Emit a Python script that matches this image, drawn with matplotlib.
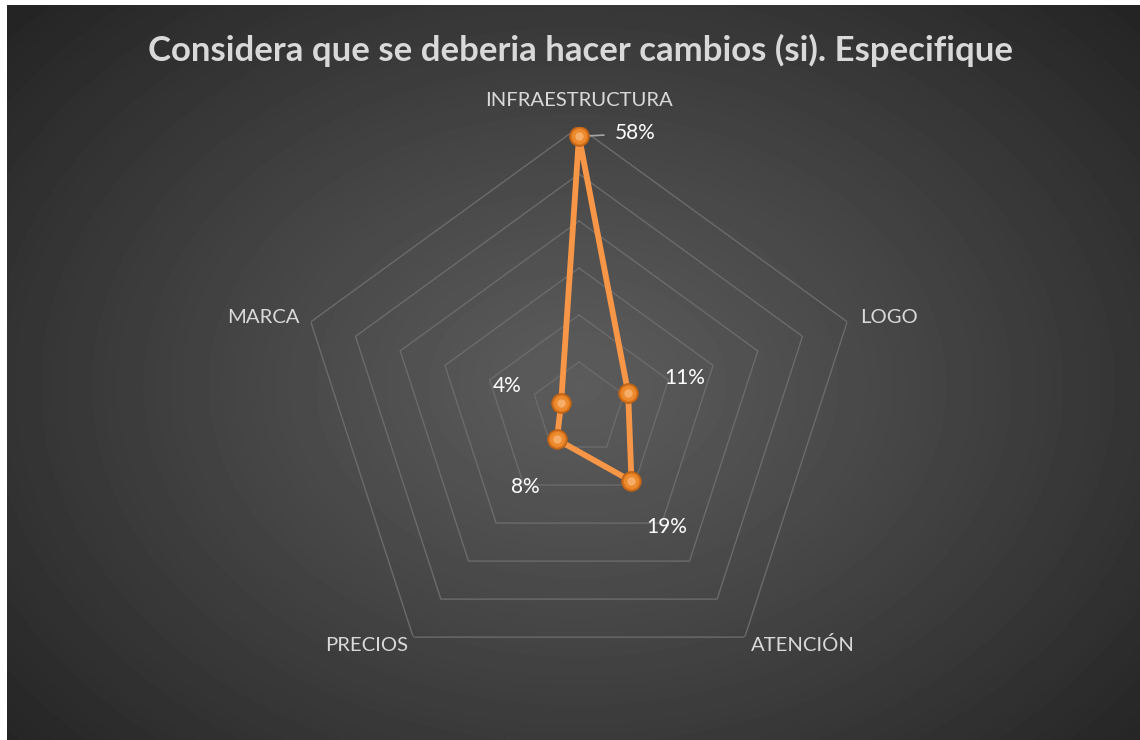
import numpy as np
import matplotlib.pyplot as plt

categories = ["INFRAESTRUCTURA", "LOGO", "ATENCIÓN", "PRECIOS", "MARCA"]
values = [0.58, 0.11, 0.19, 0.08, 0.04]
value_labels = ["58%", "11%", "19%", "8%", "4%"]
ring_levels = [0.1, 0.2, 0.3, 0.4, 0.5, 0.6]

title = "Considera que se deberia hacer cambios (si). Especifique"

plt.rcParams['font.family'] = ['Lato', 'DejaVu Sans']

W, H = 1140, 740
fig = plt.figure(figsize=(W / 100, H / 100), dpi=100, facecolor='white')

# dark radial gradient panel
bg = fig.add_axes([7 / W, 0, 1 - 7 / W, 735 / H])
yy, xx = np.mgrid[0:735, 0:1133]
d = np.sqrt(((xx - 570) / 760.0) ** 2 + ((yy - 380) / 560.0) ** 2)
d = np.clip(d, 0, 1)
shade = 92 - (92 - 36) * d ** 1.1
bg.imshow(shade, cmap='gray', vmin=0, vmax=255, aspect='auto', interpolation='bilinear')
bg.axis('off')

# radar axes
cx, cy, R = 579, 409, 282
ax = fig.add_axes([(cx - R) / W, (H - cy - R) / H, 2 * R / W, 2 * R / H], projection='polar')
ax.set_facecolor('none')
ax.set_theta_offset(np.pi / 2)
ax.set_theta_direction(-1)
ax.set_ylim(0, 0.6)
ax.grid(False)
ax.spines['polar'].set_visible(False)
ax.set_xticks([])
ax.set_yticks([])

n = len(categories)
angles = np.arange(n) * 2 * np.pi / n
closed = np.append(angles, angles[0])

for lvl in ring_levels:
    ax.plot(closed, [lvl] * (n + 1), color='#6b6b6b', lw=1.0, zorder=1)

vals_closed = values + values[:1]
ax.plot(closed, vals_closed, color='#F79646', lw=4.2, solid_joinstyle='miter', zorder=3)
ax.plot(angles, values, 'o', ms=14, mfc='#D9731C', mec='#B45E18', mew=0.8, zorder=4)
ax.plot(angles, values, 'o', ms=11, mfc='#EE8A2E', mec='none', zorder=5)
ax.plot(angles, values, 'o', ms=6, mfc='#F9B777', mec='none', alpha=0.8, zorder=6)

# category labels
cat_offsets = [(0, 27, 'center'), (13, 4, 'left'), (58, -8, 'center'),
               (-47, -8, 'center'), (-11, 4, 'right')]
for a, lab, (dx, dy, ha) in zip(angles, categories, cat_offsets):
    ax.annotate(lab, (a, 0.6), xytext=(dx, dy), textcoords='offset pixels',
                ha=ha, va='center', color='#d9d9d9', fontsize=14.6)

# value labels
val_offsets = [(36, 3, 'left'), (57, 15, 'center'), (35, -46, 'center'),
               (-32, -48, 'center'), (-54, 17, 'center')]
for i, (a, v, lab, (dx, dy, ha)) in enumerate(zip(angles, values, value_labels, val_offsets)):
    if i == 0:
        ax.annotate(lab, (a, v), xytext=(dx, dy), textcoords='offset pixels',
                    ha=ha, va='center', color='white', fontsize=15,
                    arrowprops=dict(arrowstyle='-', color='#a6a6a6', lw=1.2,
                                    shrinkA=6, shrinkB=0))
    else:
        ax.annotate(lab, (a, v), xytext=(dx, dy), textcoords='offset pixels',
                    ha=ha, va='center', color='white', fontsize=15)

fig.text(581 / W, 1 - 50 / H, title, ha='center', va='center', color='#d9d9d9',
         fontsize=25, fontweight='bold')

fig.savefig('out.png', dpi=100, facecolor='white')
